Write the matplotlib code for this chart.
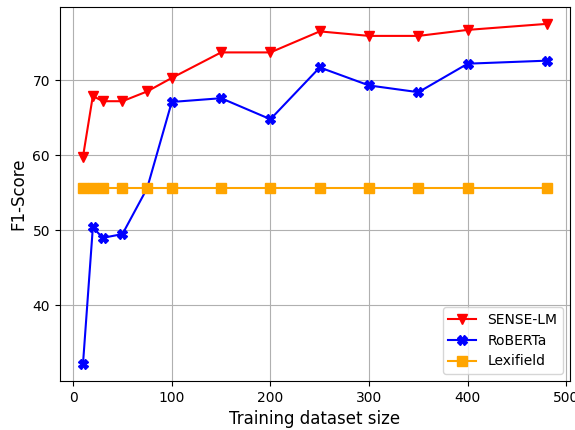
import matplotlib
matplotlib.use("Agg")
import matplotlib.pyplot as plt

sizes = [10, 20, 30, 50, 75, 100, 150, 200, 250, 300, 350, 400, 480]
sense_lm = [59.8, 67.9, 67.2, 67.2, 68.5, 70.3, 73.7, 73.7, 76.5, 75.9, 75.9, 76.7, 77.5]
roberta = [32.2, 50.4, 49.0, 49.5, 55.6, 67.1, 67.6, 64.8, 71.7, 69.3, 68.4, 72.2, 72.6]
lexifield = [55.7] * 13

fig = plt.figure(figsize=(5.75, 4.3), dpi=100)
ax = fig.add_axes([0.104, 0.114, 0.887, 0.870])
ax.plot(sizes, sense_lm, color="red", marker="v", markersize=7, label="SENSE-LM")
ax.plot(sizes, roberta, color="blue", marker="X", markersize=7, label="RoBERTa")
ax.plot(sizes, lexifield, color="orange", marker="s", markersize=7, label="Lexifield")
ax.set_xlabel("Training dataset size", fontsize=12)
ax.set_ylabel("F1-Score", fontsize=12)
ax.set_yticks([40, 50, 60, 70])
ax.grid(True)
ax.legend(loc="lower right")
fig.savefig("out.png", dpi=100)
